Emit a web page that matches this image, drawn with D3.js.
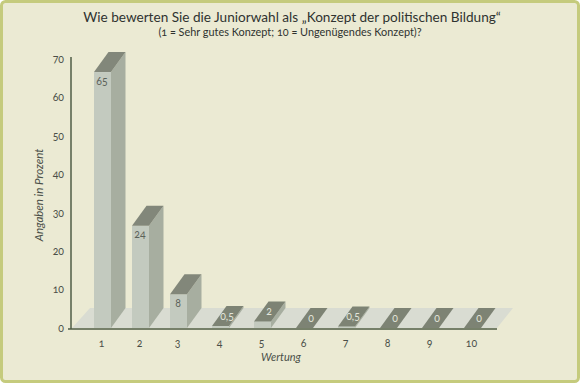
<!DOCTYPE html>
<html><head><meta charset="utf-8">
<script src="https://cdn.jsdelivr.net/npm/d3@7"></script>
<style>
html,body{margin:0;padding:0;background:#fff}
svg{display:block}
text{font-family:Lato,"Open Sans",sans-serif;font-feature-settings:"onum"}
</style></head><body>
<script>
const categories = [1,2,3,4,5,6,7,8,9,10];
const valueLabels = ["65","24","8","0,5","2","0","0,5","0","0","0"];
// heights as drawn in the picture, read against the value axis
const drawnValues = [66.6,26.6,8.8,0.5,1.7,0,0.4,0,0,0];
const yTicks = [0,10,20,30,40,50,60,70];
const titleText = "Wie bewerten Sie die Juniorwahl als „Konzept der politischen Bildung“";
const subtitleText = "(1 = Sehr gutes Konzept; 10 = Ungenügendes Konzept)?";
const yTitle = "Angaben in Prozent";
const xTitle = "Wertung";

const W=580,H=383;
const c={bg:"#ebead3",border:"#c5cb7d",floor:"#d9dcd2",axis:"#4f5c46",front:"#c3cabf",side:"#a7aea0",top:"#82877a",topFlat:"#7d8374",ink:"#4a4f48",flatInk:"#e2e5da",title:"#2f3330"};
const svg=d3.select("body").append("svg").attr("width",W).attr("height",H);
svg.append("rect").attr("x",1.5).attr("y",1.5).attr("width",W-3).attr("height",H-3).attr("rx",4)
  .attr("fill",c.bg).attr("stroke",c.border).attr("stroke-width",3);

const y=d3.scaleLinear().domain([0,70]).range([328,59]);
const x=d3.scaleLinear().domain([1,3,10]).range([94,170,464]);
const barW=17, depthX=14.5, depthY=20;
const poly=p=>p.map(q=>q.join(",")).join(" ");

// floor
svg.append("polygon").attr("fill",c.floor)
  .attr("points",poly([[x(1)-22,y(0)],[x(1)-22+18,y(0)-depthY],[x(10)+49,y(0)-depthY],[x(10)+33,y(0)]]));

// bars
const bars=svg.selectAll("g.bar").data(categories).join("g").attr("class","bar");
bars.each(function(d,i){
  const g=d3.select(this),l=x(d),r=l+barW,t=y(drawnValues[i]),b=y(0);
  const tall=drawnValues[i]>5;
  g.append("polygon").attr("fill",c.side).attr("points",poly([[r,t],[r+depthX,t-depthY],[r+depthX,b-depthY],[r,b]]));
  g.append("rect").attr("x",l).attr("y",t).attr("width",barW).attr("height",b-t).attr("fill",c.front);
  g.append("polygon").attr("fill",tall?c.top:c.topFlat).attr("points",poly([[l,t],[l+depthX,t-depthY],[r+depthX,t-depthY],[r,t]]));
  g.append("text").text(valueLabels[i]).attr("text-anchor","middle").attr("font-size",10.5)
    .attr("x",tall?l+barW/2-0.5:l+15).attr("y",tall?t+12.5:t-6)
    .attr("fill",tall?"#5c625a":c.flatInk);
});

// axes
const yAxis=d3.axisLeft(y).tickValues(yTicks).tickSize(0).tickPadding(7);
const gy=svg.append("g").attr("transform","translate(71,0)").call(yAxis);
gy.select(".domain").remove();
gy.selectAll("text").attr("font-size",10.5).attr("fill",c.ink);
const line=svg.append("g").attr("stroke",c.axis).attr("stroke-width",1.5);
line.append("line").attr("x1",71).attr("x2",71).attr("y1",57).attr("y2",329);
line.append("line").attr("x1",68).attr("x2",497).attr("y1",329).attr("y2",329);

svg.append("g").selectAll("text").data(categories).join("text").text(d=>d)
  .attr("x",d=>x(d)+barW/2-1).attr("y",347).attr("text-anchor","middle")
  .attr("font-size",10.5).attr("fill",c.ink);

// titles
svg.append("text").text(titleText).attr("x",292).attr("y",22).attr("text-anchor","middle")
  .attr("font-size",13.6).attr("fill",c.title);
svg.append("text").text(subtitleText).attr("x",290).attr("y",36).attr("text-anchor","middle")
  .attr("font-size",10.9).attr("fill",c.title);
svg.append("text").text(yTitle).attr("transform","translate(43,195) rotate(-90)").attr("text-anchor","middle")
  .attr("font-size",11.5).attr("font-style","italic").attr("fill",c.ink);
svg.append("text").text(xTitle).attr("x",281).attr("y",361).attr("text-anchor","middle")
  .attr("font-size",11).attr("font-style","italic").attr("fill",c.ink);
</script>
</body></html>
